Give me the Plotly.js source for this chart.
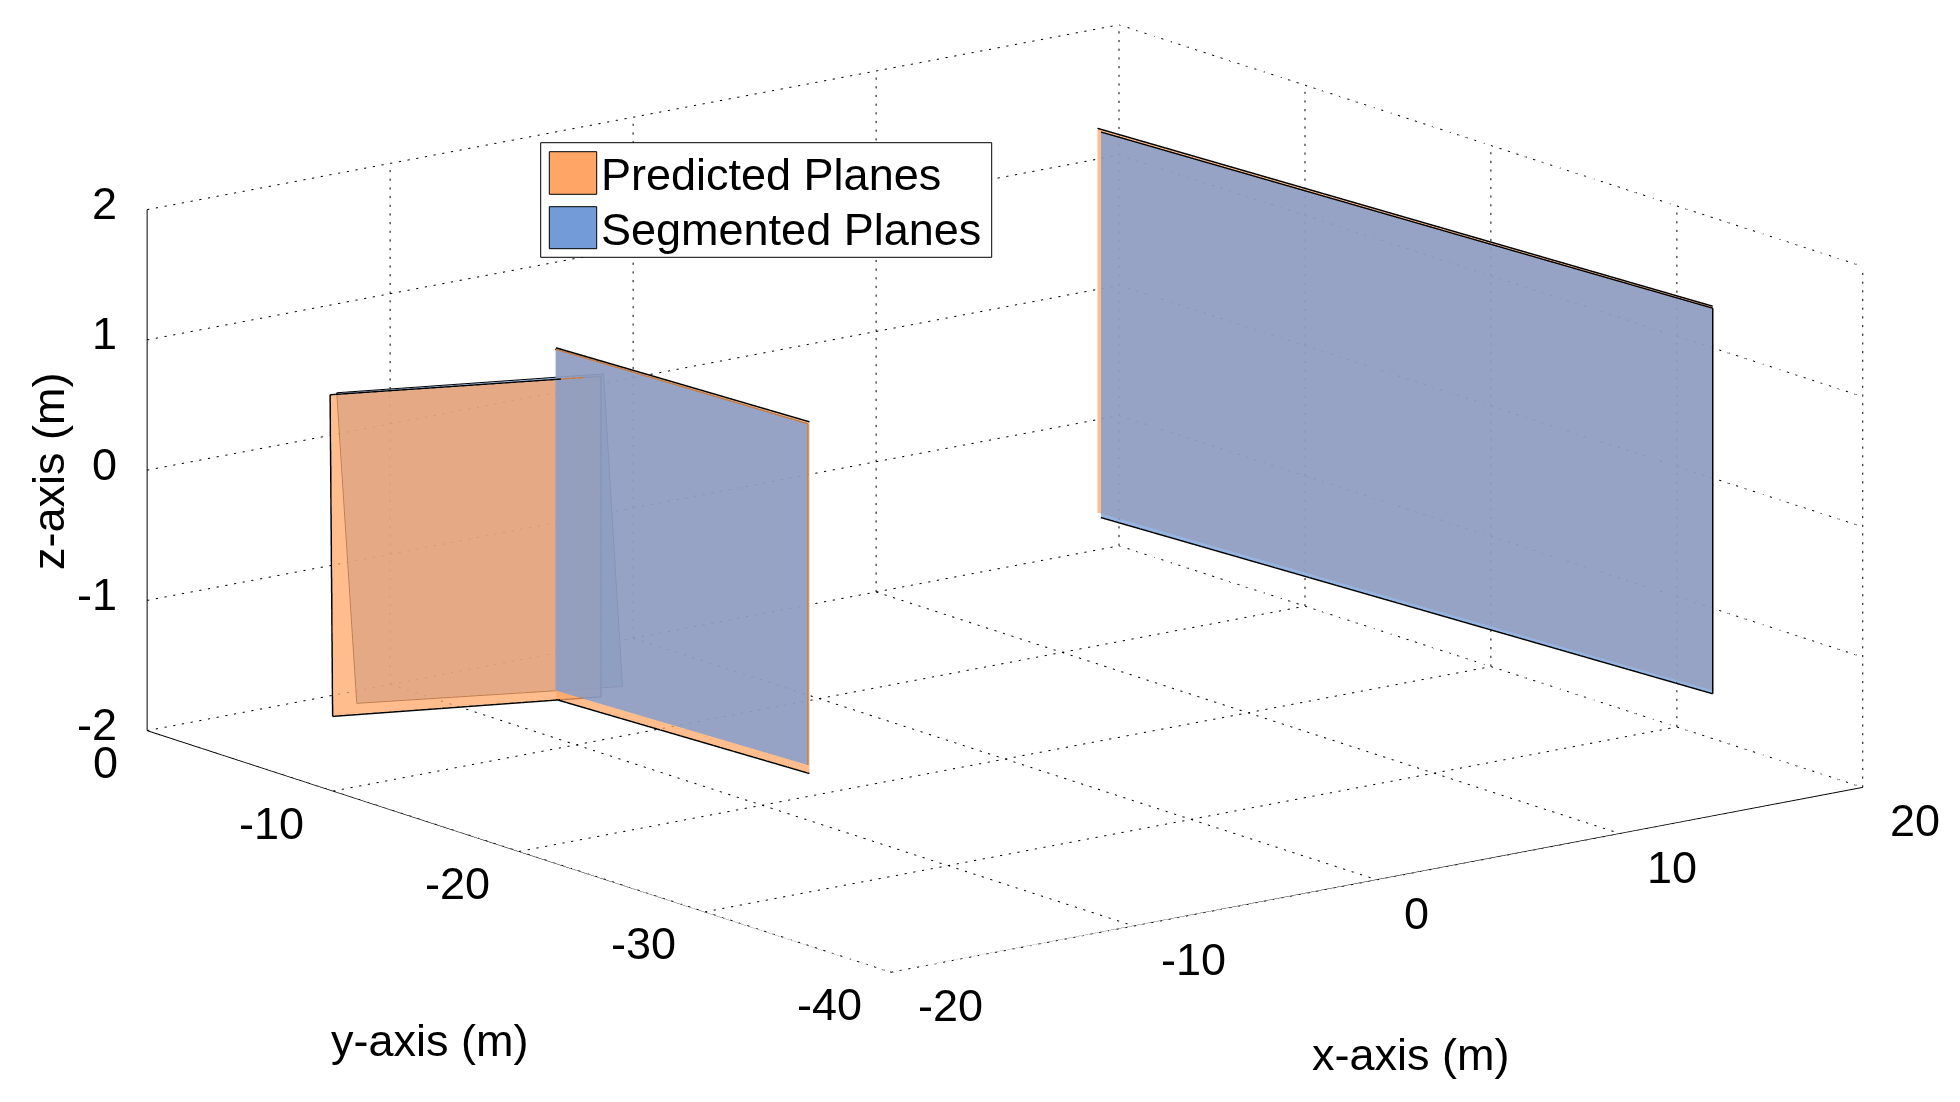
<!DOCTYPE html>
<html><head><meta charset="utf-8">
<script src="https://cdn.plot.ly/plotly-3.0.1.min.js"></script>
<style>html,body{margin:0;padding:0;background:#fff}#chart{width:1960px;height:1102px}</style>
</head><body><div id="chart"></div>
<script>
// Axis ticks
const xTicks = [-20,-10,0,10,20];
const yTicks = [0,-10,-20,-30,-40];
const zTicks = [-2,-1,0,1,2];
// Plane corners: bottom-start, bottom-end, top-end, top-start
const predictedLeftX  = [-19.25,-10.72,-10.72,-19.22];
const predictedLeftY  = [-8.995,-12.28,-12.28,-8.82];
const predictedLeftZ  = [-1.5,-1.5,0.96,0.96];
const segmentedLeftX  = [-17.58,-9.34,-9.73,-18.16];
const segmentedLeftY  = [-8.11,-11.63,-11.12,-7.79];
const segmentedLeftZ  = [-1.5,-1.5,0.89,0.89];
const predictedMidX   = [-12.1,-11.44,-11.44,-12.1];
const predictedMidY   = [-11.67,-24.43,-24.43,-11.67];
const predictedMidZ   = [-1.5,-1.5,1.2,1.2];
const segmentedMidX   = [-11.4,-10.8,-10.8,-11.4];
const segmentedMidY   = [-10.71,-23.51,-23.51,-10.71];
const segmentedMidZ   = [-1.5,-1.5,1.12,1.12];
const predictedFarX   = [16.89,18.64,18.64,16.89];
const predictedFarY   = [-2.90,-33.7,-33.7,-2.90];
const predictedFarZ   = [-1.5,-1.5,1.45,1.45];
const segmentedFarX   = [16.58,18.38,18.38,16.58];
const segmentedFarY   = [-3.49,-34.05,-34.05,-3.49];
const segmentedFarZ   = [-1.5,-1.5,1.46,1.46];
const seriesNames = ['Predicted Planes','Segmented Planes'];
const predictedColor = '#FFA666';
const segmentedColor = '#739BD7';

function plane(x,y,z,color,name){
  return {type:'mesh3d',x,y,z,i:[0,0],j:[1,2],k:[2,3],color,opacity:0.75,name,
    flatshading:true,hoverinfo:'skip',showscale:false,
    lighting:{ambient:1,diffuse:0,specular:0,roughness:1,fresnel:0},
    lightposition:{x:0,y:0,z:1000}};
}
function path(segs,color,width){
  const x=[],y=[],z=[];
  segs.forEach(s=>{s.forEach(p=>{x.push(p[0]);y.push(p[1]);z.push(p[2]);});x.push(null);y.push(null);z.push(null);});
  return {type:'scatter3d',mode:'lines',x,y,z,line:{color,width},hoverinfo:'skip',showlegend:false};
}
function outline(x,y,z,edges,color,w){
  return path(edges.map(e=>[[x[e[0]],y[e[0]],z[e[0]]],[x[e[1]],y[e[1]],z[e[1]]]]),color,w);
}
const xLo=-20,xHi=20,yLo=-40,yHi=0,zLo=-2,zHi=2;
const gridEnds=[];
xTicks.forEach(t=>{gridEnds.push([[t,yHi,zLo],[t,yLo,zLo]]);gridEnds.push([[t,yHi,zLo],[t,yHi,zHi]]);});
yTicks.forEach(t=>{gridEnds.push([[xLo,t,zLo],[xHi,t,zLo]]);gridEnds.push([[xHi,t,zLo],[xHi,t,zHi]]);});
zTicks.forEach(t=>{gridEnds.push([[xLo,yHi,t],[xHi,yHi,t]]);gridEnds.push([[xHi,yHi,t],[xHi,yLo,t]]);});
// dotted grid: each axis line broken into short dots
function dotted(a,b){
  const n=Math.round(Math.abs(b[0]-a[0])*2.8+Math.abs(b[1]-a[1])*2.2+Math.abs(b[2]-a[2])*15);
  const out=[];
  for(let i=0;i<n;i++){
    const s=i/n,e=(i+0.25)/n;
    out.push([[a[0]+(b[0]-a[0])*s,a[1]+(b[1]-a[1])*s,a[2]+(b[2]-a[2])*s],
              [a[0]+(b[0]-a[0])*e,a[1]+(b[1]-a[1])*e,a[2]+(b[2]-a[2])*e]]);
  }
  return out;
}
const grid=[].concat(...gridEnds.map(g=>dotted(g[0],g[1])));
const axesLines=[[[xLo,yHi,zLo],[xLo,yHi,zHi]],[[xLo,yHi,zLo],[xLo,yLo,zLo]],[[xLo,yLo,zLo],[xHi,yLo,zLo]]];
const tickLines=[];
xTicks.forEach(t=>tickLines.push([[t,yLo,zLo],[t,yLo-1.1,zLo]]));
yTicks.forEach(t=>tickLines.push([[xLo,t,zLo],[xLo-1.1,t,zLo]]));
zTicks.forEach(t=>tickLines.push([[xLo,yHi,t],[xLo,yHi+1.1,t]]));

const data=[
  path(grid,'#000000',2),
  path(axesLines,'#000000',2),
  path(tickLines,'#000000',2),
  plane(segmentedLeftX,segmentedLeftY,segmentedLeftZ,segmentedColor,seriesNames[1]),
  plane(predictedLeftX,predictedLeftY,predictedLeftZ,predictedColor,seriesNames[0]),
  plane(predictedMidX,predictedMidY,predictedMidZ,predictedColor,seriesNames[0]),
  plane(segmentedMidX,segmentedMidY,segmentedMidZ,segmentedColor,seriesNames[1]),
  plane(predictedFarX,predictedFarY,predictedFarZ,predictedColor,seriesNames[0]),
  plane(segmentedFarX,segmentedFarY,segmentedFarZ,segmentedColor,seriesNames[1]),
  outline(predictedLeftX,predictedLeftY,predictedLeftZ,[[0,1],[3,2],[0,3],[1,2]],'#000000',3),
  outline(segmentedLeftX,segmentedLeftY,segmentedLeftZ,[[0,1],[1,2],[2,3],[3,0]],'#000000',2),
  outline(predictedMidX,predictedMidY,predictedMidZ,[[0,1],[3,2]],'#000000',3),
  outline(segmentedMidX,segmentedMidY,segmentedMidZ,[[3,2],[1,2]],'#000000',3),
  outline(segmentedFarX,segmentedFarY,segmentedFarZ,[[3,2],[0,1],[1,2]],'#000000',3),
  outline(predictedFarX,predictedFarY,predictedFarZ,[[3,2]],'#000000',3)
];

const fontFam='"Liberation Sans", Arial, sans-serif';
const sceneAnn=[];
function lab(x,y,z,text,xanchor,xshift,yshift){
  sceneAnn.push({x,y,z,text:String(text),showarrow:false,xanchor,yanchor:'middle',xshift,yshift,
    font:{family:fontFam,size:45,color:'#000'}});
}
zTicks.forEach(t=>lab(xLo,yHi,t,t,'right',-28,6));
yTicks.forEach(t=>lab(xLo,t,zLo,t,'right',-27,-32));
xTicks.forEach(t=>lab(t,yLo,zLo,t,'left',25,-33.5));

const px=(v)=>v/1960, py=(v)=>1-v/1102;
const paperText=(x,y,text,size,anchor,angle)=>({xref:'paper',yref:'paper',x:px(x),y:py(y),text,showarrow:false,
  xanchor:anchor||'center',yanchor:'middle',textangle:angle||0,font:{family:fontFam,size,color:'#000'}});

const layout={
  width:1960,height:1102,margin:{l:0,r:0,t:0,b:0},paper_bgcolor:'#fff',showlegend:false,
  scene:{
    domain:{x:[50/1960,1],y:[1-997/1102,1]},
    aspectmode:'manual',aspectratio:{x:2.455,y:2.455,z:1.079},
    camera:{projection:{type:'orthographic'},up:{x:0,y:0,z:1},center:{x:0,y:0,z:0},
      eye:{x:-1.177,y:-1.538,z:0.497}},
    xaxis:{visible:false,range:[xLo,xHi]},
    yaxis:{visible:false,range:[yLo,yHi]},
    zaxis:{visible:false,range:[zLo,zHi]},
    annotations:sceneAnn
  },
  annotations:[
    paperText(429,1040,'y-axis (m)',45),
    paperText(1410,1054,'x-axis (m)',45),
    paperText(48,472,'z-axis (m)',45,'center',-90),
    paperText(599,174,seriesNames[0],45,'left'),
    paperText(599,230,seriesNames[1],45,'left')
  ],
  shapes:[
    {type:'rect',xref:'paper',yref:'paper',x0:px(540.7),x1:px(991.7),y0:py(142.7),y1:py(257.3),fillcolor:'#fff',line:{color:'#000',width:1},layer:'above'},
    {type:'rect',xref:'paper',yref:'paper',x0:px(549.3),x1:px(596.7),y0:py(151.7),y1:py(194.3),fillcolor:predictedColor,line:{color:'#000',width:1},layer:'above'},
    {type:'rect',xref:'paper',yref:'paper',x0:px(549.3),x1:px(596.7),y0:py(206.7),y1:py(248.7),fillcolor:segmentedColor,line:{color:'#000',width:1},layer:'above'}
  ]
};
Plotly.newPlot('chart',data,layout,{displayModeBar:false});
</script></body></html>
